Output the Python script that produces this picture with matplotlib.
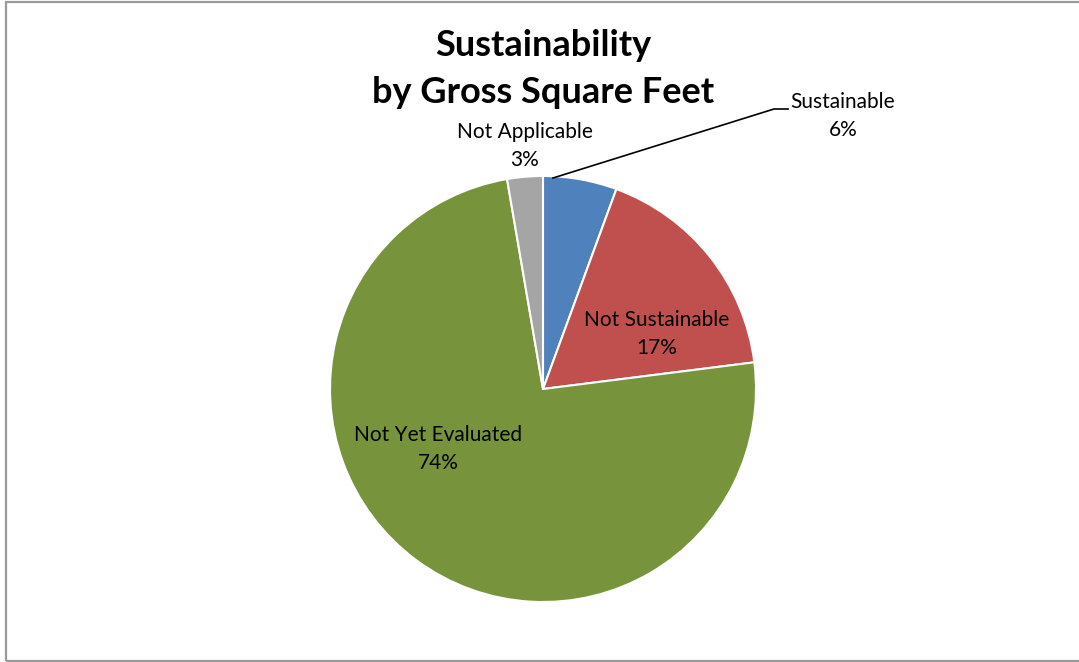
import matplotlib
matplotlib.use("Agg")
import matplotlib.pyplot as plt
from matplotlib.patches import Rectangle

# data
categories = ["Sustainable", "Not Sustainable", "Not Yet Evaluated", "Not Applicable"]
shares = [5.6, 17.4, 74.3, 2.7]
colors = ["#4F81BD", "#C0504D", "#77933C", "#A5A5A5"]
pct_labels = ["6%", "17%", "74%", "3%"]

plt.rcParams["font.family"] = ["Lato", "DejaVu Sans"]

W, H = 1079, 662
fig = plt.figure(figsize=(W / 100, H / 100), dpi=100)
fig.patch.set_facecolor("white")

# outer chart frame
fig.patches.append(Rectangle((6 / W, 1 / H), 1.2, (659 / H), transform=fig.transFigure,
                             fill=False, edgecolor="#9a9a9a", linewidth=1.6))

cx, cy, r = 543, 389, 213
ax = fig.add_axes([(cx - r) / W, (H - cy - r) / H, 2 * r / W, 2 * r / H])
wedges, _ = ax.pie(shares, colors=colors, startangle=90, counterclock=False,
                   wedgeprops=dict(edgecolor="white", linewidth=1.5))
ax.set_xlim(-1, 1)
ax.set_ylim(-1, 1)
ax.axis("off")


def px(x, y):
    return ((x - cx) / r, (cy - y) / r)


fs = 15
label_pos = {
    "Sustainable": (843, 116),
    "Not Sustainable": (657, 334),
    "Not Yet Evaluated": (438, 449),
    "Not Applicable": (525, 146),
}
for name, pct in zip(categories, pct_labels):
    x, y = px(*label_pos[name])
    ax.text(x, y, name + "\n" + pct, ha="center", va="center", fontsize=fs,
            linespacing=1.55, clip_on=False)

# leader line for the small "Sustainable" slice
p0 = px(553, 178)
p1 = px(774, 109)
p2 = px(788, 109)
ax.plot([p0[0], p1[0], p2[0]], [p0[1], p1[1], p2[1]], color="black", lw=1.2,
        clip_on=False)

fig.text(543 / W, 1 - 69 / H, "Sustainability\nby Gross Square Feet", ha="center",
         va="center", fontsize=26, fontweight="bold", linespacing=1.5)

fig.savefig("out.png", dpi=100, facecolor="white")
